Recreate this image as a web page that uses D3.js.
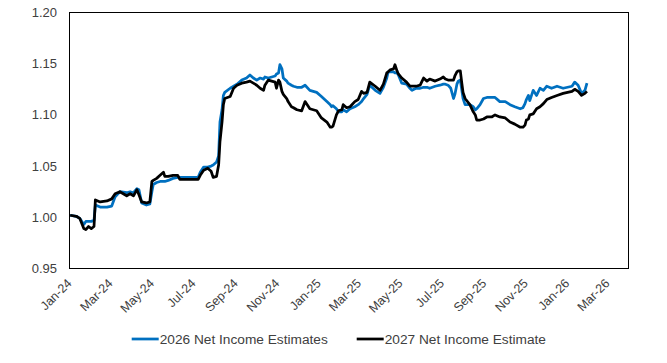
<!DOCTYPE html>
<html>
<head>
<meta charset="utf-8">
<script src="https://cdn.jsdelivr.net/npm/d3@7"></script>
<style>
  body { margin: 0; background: #fff; }
  svg text { font-family: Arial, "Liberation Sans", sans-serif; fill: #404040; }
</style>
</head>
<body>
<svg></svg>
<script>
// dates shared by both series
var dates = [
  "2024-01-02","2024-01-11","2024-01-16","2024-01-22","2024-01-25","2024-01-29","2024-02-02","2024-02-06",
  "2024-02-08","2024-02-15","2024-02-25","2024-03-03","2024-03-08","2024-03-15","2024-03-25","2024-03-30",
  "2024-04-04","2024-04-09","2024-04-12","2024-04-16","2024-04-23","2024-04-28","2024-05-01","2024-05-03",
  "2024-05-08","2024-05-13","2024-05-18","2024-05-20","2024-05-25","2024-06-01","2024-06-08","2024-06-11",
  "2024-06-26","2024-07-08","2024-07-11","2024-07-16","2024-07-22","2024-07-27","2024-07-30","2024-08-04",
  "2024-08-07","2024-08-09","2024-08-12","2024-08-14","2024-08-16","2024-08-24","2024-08-29","2024-09-03",
  "2024-09-10","2024-09-17","2024-09-22","2024-09-27","2024-10-02","2024-10-07","2024-10-12","2024-10-14",
  "2024-10-19","2024-10-24","2024-10-29","2024-10-31","2024-11-03","2024-11-05","2024-11-08","2024-11-10",
  "2024-11-15","2024-11-17","2024-11-22","2024-11-25","2024-11-30","2024-12-07","2024-12-12","2024-12-19",
  "2024-12-29","2025-01-05","2025-01-13","2025-01-18","2025-01-20","2025-01-22","2025-01-27","2025-01-30",
  "2025-02-04","2025-02-06","2025-02-11","2025-02-16","2025-02-23","2025-02-28","2025-03-05","2025-03-08",
  "2025-03-13","2025-03-17","2025-03-25","2025-04-01","2025-04-06","2025-04-11","2025-04-13","2025-04-16",
  "2025-04-21","2025-04-23","2025-04-26","2025-04-28","2025-05-03","2025-05-10","2025-05-15","2025-05-18",
  "2025-05-24","2025-05-30","2025-06-04","2025-06-09","2025-06-13","2025-06-21","2025-06-28","2025-07-03",
  "2025-07-06","2025-07-10","2025-07-14","2025-07-18","2025-07-20","2025-07-23","2025-07-25","2025-07-28",
  "2025-07-30","2025-08-01","2025-08-04","2025-08-11","2025-08-16","2025-08-19","2025-08-21","2025-08-26",
  "2025-08-31","2025-09-05","2025-09-12","2025-09-17","2025-09-24","2025-10-02","2025-10-09","2025-10-16",
  "2025-10-24","2025-10-28","2025-10-31","2025-11-02","2025-11-05","2025-11-07","2025-11-12","2025-11-17",
  "2025-11-22","2025-11-27","2025-12-02","2025-12-09","2025-12-17","2025-12-26","2026-01-08","2026-01-12",
  "2026-01-17","2026-01-22","2026-01-27","2026-01-30"
];

// 2026 net income estimates (blue)
var est2026 = [
  1.002,1.001,0.999,0.993,0.996,0.996,0.996,0.997,
  1.012,1.010,1.010,1.011,1.020,1.025,1.024,1.025,
  1.024,1.028,1.027,1.014,1.012,1.013,1.025,1.032,
  1.034,1.035,1.035,1.035,1.036,1.038,1.039,1.039,
  1.039,1.039,1.044,1.049,1.049,1.050,1.051,1.054,
  1.060,1.093,1.105,1.119,1.122,1.126,1.128,1.130,
  1.134,1.136,1.139,1.136,1.134,1.136,1.135,1.137,
  1.136,1.137,1.138,1.140,1.141,1.149,1.145,1.136,
  1.133,1.131,1.129,1.128,1.127,1.127,1.129,1.124,
  1.122,1.118,1.113,1.110,1.108,1.109,1.106,1.103,
  1.103,1.105,1.103,1.106,1.108,1.110,1.113,1.116,
  1.120,1.129,1.124,1.121,1.127,1.136,1.142,1.142,
  1.142,1.141,1.141,1.139,1.131,1.130,1.126,1.124,
  1.126,1.126,1.127,1.127,1.126,1.128,1.129,1.130,
  1.130,1.129,1.126,1.116,1.120,1.130,1.133,1.134,
  1.125,1.116,1.110,1.110,1.108,1.105,1.106,1.110,
  1.116,1.117,1.117,1.117,1.113,1.113,1.110,1.108,
  1.106,1.107,1.111,1.115,1.119,1.114,1.124,1.119,
  1.126,1.124,1.128,1.126,1.128,1.126,1.128,1.132,
  1.129,1.121,1.124,1.131
];

// 2027 net income estimate (black)
var est2027 = [
  1.002,1.001,0.999,0.989,0.988,0.991,0.989,0.991,
  1.017,1.015,1.016,1.018,1.023,1.025,1.021,1.023,
  1.021,1.027,1.022,1.015,1.014,1.015,1.035,1.036,
  1.038,1.041,1.044,1.040,1.040,1.041,1.041,1.037,
  1.037,1.037,1.041,1.046,1.048,1.045,1.039,1.040,
  1.051,1.074,1.093,1.110,1.116,1.118,1.126,1.129,
  1.131,1.132,1.133,1.131,1.129,1.126,1.124,1.129,
  1.134,1.133,1.132,1.126,1.134,1.132,1.123,1.120,
  1.116,1.113,1.108,1.107,1.105,1.104,1.113,1.106,
  1.104,1.097,1.093,1.088,1.088,1.089,1.100,1.104,
  1.105,1.110,1.107,1.108,1.113,1.115,1.123,1.121,
  1.122,1.132,1.128,1.124,1.130,1.141,1.142,1.144,
  1.145,1.149,1.143,1.140,1.136,1.132,1.128,1.128,
  1.128,1.129,1.136,1.133,1.135,1.133,1.135,1.137,
  1.135,1.134,1.134,1.134,1.138,1.142,1.143,1.143,
  1.132,1.122,1.116,1.110,1.103,1.100,1.095,1.095,
  1.096,1.098,1.098,1.100,1.098,1.097,1.093,1.091,
  1.088,1.088,1.090,1.095,1.096,1.100,1.101,1.106,
  1.108,1.111,1.115,1.117,1.119,1.121,1.123,1.125,
  1.123,1.119,1.121,1.123
];

var yTicks = [0.95, 1.00, 1.05, 1.10, 1.15, 1.20];
var xTicks = ["2024-01-01","2024-03-01","2024-05-01","2024-07-01","2024-09-01","2024-11-01",
              "2025-01-01","2025-03-01","2025-05-01","2025-07-01","2025-09-01","2025-11-01",
              "2026-01-01","2026-03-01"];
var seriesNames = ["2026 Net Income Estimates", "2027 Net Income Estimate"];
var seriesColors = ["#0070C0", "#000000"];

var screen = {width: 667, height: 363};
var plot = {left: 69.5, top: 12.5, right: 628.5, bottom: 268.5};

var parse = d3.timeParse("%Y-%m-%d");
var fmt = d3.timeFormat("%b-%y");

var svg = d3.select("svg")
    .attr("width", screen.width)
    .attr("height", screen.height);

var xScale = d3.scaleTime()
    .domain([parse("2024-01-01"), parse("2026-04-01")])
    .range([plot.left, plot.right]);

var yScale = d3.scaleLinear()
    .domain([0.95, 1.20])
    .range([plot.bottom, plot.top]);

// y labels
svg.selectAll(".ylab")
    .data(yTicks)
    .enter()
    .append("text")
    .attr("class", "ylab")
    .attr("x", 57)
    .attr("y", function(d){return yScale(d)})
    .attr("dy", "0.35em")
    .attr("text-anchor", "end")
    .style("font-size", "13px")
    .text(function(d){return d.toFixed(2)});

// x labels, rotated
svg.selectAll(".xlab")
    .data(xTicks)
    .enter()
    .append("text")
    .attr("class", "xlab")
    .attr("transform", function(d){
        return "translate(" + (xScale(parse(d)) + 3) + "," + 284 + ") rotate(-45)";
    })
    .attr("text-anchor", "end")
    .style("font-size", "12.5px")
    .text(function(d){return fmt(parse(d))});

// lines
var series = [est2026, est2027];
series.forEach(function(vals, s){
    var pts = vals.map(function(v, i){return {x: parse(dates[i]), y: v}});
    var line = d3.line()
        .x(function(p){return xScale(p.x)})
        .y(function(p){return yScale(p.y)});
    svg.append("path")
        .datum(pts)
        .attr("d", line)
        .attr("fill", "none")
        .attr("stroke", seriesColors[s])
        .attr("stroke-width", 2.75)
        .attr("stroke-linejoin", "round");
});

// plot border
svg.append("rect")
    .attr("x", plot.left)
    .attr("y", plot.top)
    .attr("width", plot.right - plot.left)
    .attr("height", plot.bottom - plot.top)
    .attr("fill", "none")
    .attr("stroke", "#000")
    .attr("stroke-width", 1);

// legend
var legendX = [131.7, 356.7];
seriesNames.forEach(function(name, s){
    svg.append("line")
        .attr("x1", legendX[s])
        .attr("x2", legendX[s] + 27)
        .attr("y1", 339)
        .attr("y2", 339)
        .attr("stroke", seriesColors[s])
        .attr("stroke-width", 2.75);
    svg.append("text")
        .attr("x", legendX[s] + 28)
        .attr("y", 339)
        .attr("dy", "0.35em")
        .style("font-size", "13.7px")
        .text(name);
});
</script>
</body>
</html>
